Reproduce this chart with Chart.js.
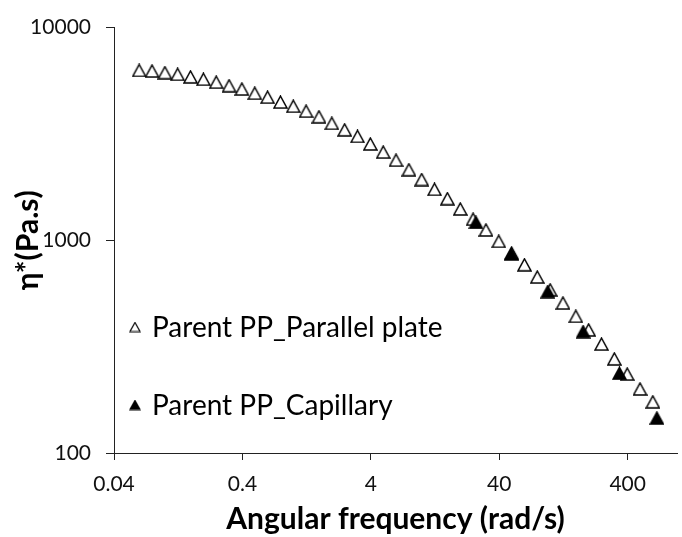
<!DOCTYPE html>
<html>
<head>
<meta charset="utf-8">
<script src="https://cdn.jsdelivr.net/npm/chart.js@4.4.1/dist/chart.umd.min.js"></script>
<style>
  html, body { margin: 0; padding: 0; background: #fff; }
</style>
</head>
<body>
<canvas id="myChart" width="682" height="537"></canvas>
<script>
// frequency sweep, parallel plate (rad/s, Pa.s)
var plateFreq = [
  0.0628, 0.0791, 0.0996, 0.1253, 0.1578, 0.1987, 0.2501, 0.3149, 0.3964, 0.4991,
  0.628, 0.791, 0.996, 1.253, 1.578, 1.987, 2.501, 3.149, 3.964, 4.991,
  6.28, 7.91, 9.96, 12.53, 15.78, 19.87, 25.01, 31.49, 39.64, 49.91,
  62.8, 79.1, 99.6, 125.3, 157.8, 198.7, 250.1, 314.9, 396.4, 499.1, 628
];
var plateVisc = [
  6288, 6250, 6138, 6029, 5864, 5716, 5537, 5330, 5142, 4912,
  4708, 4465, 4266, 4045, 3807, 3546, 3307, 3080, 2838, 2598,
  2379, 2147, 1931, 1736, 1570, 1404, 1256, 1118, 989, 871,
  767, 672, 585, 507, 439, 379, 325, 277, 235, 200, 174
];

// capillary rheometer points
var capFreq = [26.3, 49.7, 95.4, 180, 345, 675];
var capVisc = [1214, 862, 574, 372, 237, 146];

var xTicks = [0.04, 0.4, 4, 40, 400];
var yTicks = [100, 1000, 10000];

function toPoints(xs, ys) {
  return xs.map(function (x, i) { return { x: x, y: ys[i] }; });
}

// triangle marker centred in its own box
function triangle(w, h, filled, lw) {
  var c = document.createElement('canvas');
  c.width = w + 2;
  c.height = h + 2;
  var g = c.getContext('2d');
  g.beginPath();
  g.moveTo(c.width / 2, 1);
  g.lineTo(w + 1, h + 1);
  g.lineTo(1, h + 1);
  g.closePath();
  g.fillStyle = filled ? '#000' : '#fff';
  g.fill();
  g.lineWidth = lw;
  g.strokeStyle = '#000';
  g.lineJoin = 'miter';
  g.stroke();
  return c;
}

var openMark = triangle(13, 12, false, 1.5);
var fillMark = triangle(13, 12, true, 1.5);
var legendMarks = [triangle(10, 9, false, 1.2), triangle(10, 9, true, 1.2)];

var insideLegend = {
  id: 'insideLegend',
  afterDraw: function (chart) {
    var ctx = chart.ctx;
    var rows = [327, 405];
    ctx.save();
    ctx.font = '28px Lato';
    ctx.fillStyle = '#000';
    ctx.textBaseline = 'middle';
    chart.data.datasets.forEach(function (ds, i) {
      var m = legendMarks[i];
      ctx.drawImage(m, 135 - m.width / 2, rows[i] - m.height / 2);
      ctx.fillText(ds.label, 152, rows[i] + 1);
    });
    ctx.restore();
  }
};

var ctx = document.getElementById('myChart').getContext('2d');
var myChart = new Chart(ctx, {
  type: 'scatter',
  data: {
    datasets: [
      {
        label: 'Parent PP_Parallel plate',
        data: toPoints(plateFreq, plateVisc),
        pointStyle: openMark,
        order: 1
      },
      {
        label: 'Parent PP_Capillary',
        data: toPoints(capFreq, capVisc),
        pointStyle: fillMark,
        order: 0
      }
    ]
  },
  options: {
    responsive: false,
    animation: false,
    layout: { padding: { top: 19, right: 0, bottom: 0, left: 0 } },
    plugins: {
      legend: { display: false },
      tooltip: { enabled: false }
    },
    scales: {
      x: {
        type: 'logarithmic',
        min: 0.04,
        max: 968,
        afterBuildTicks: function (scale) {
          scale.ticks = xTicks.map(function (v) { return { value: v }; });
        },
        afterFit: function (scale) { scale.height = 84; },
        grid: { display: true, drawOnChartArea: false, drawTicks: true, tickLength: 7, color: '#222' },
        border: { display: true, color: '#222', width: 1 },
        ticks: {
          autoSkip: false,
          maxRotation: 0,
          padding: 12,
          color: '#111',
          font: { family: 'Lato', size: 21 },
          callback: function (v) { return String(v); }
        },
        title: {
          display: true,
          text: 'Angular frequency (rad/s)',
          color: '#000',
          font: { family: 'Lato', size: 30, weight: 'bold' },
          padding: { top: 0, bottom: 0 }
        }
      },
      y: {
        type: 'logarithmic',
        min: 100,
        max: 10000,
        afterBuildTicks: function (scale) {
          scale.ticks = yTicks.map(function (v) { return { value: v }; });
        },
        afterFit: function (scale) { scale.width = 114; },
        grid: { display: true, drawOnChartArea: false, drawTicks: true, tickLength: 8, color: '#222' },
        border: { display: true, color: '#222', width: 1 },
        ticks: {
          padding: 15,
          color: '#111',
          font: { family: 'Lato', size: 21 },
          callback: function (v) { return String(v); }
        },
        title: {
          display: true,
          text: 'η*(Pa.s)',
          color: '#000',
          font: { family: 'Lato', size: 30, weight: 'bold' },
          padding: { top: 10, bottom: 0 }
        }
      }
    }
  },
  plugins: [insideLegend]
});
</script>
</body>
</html>
